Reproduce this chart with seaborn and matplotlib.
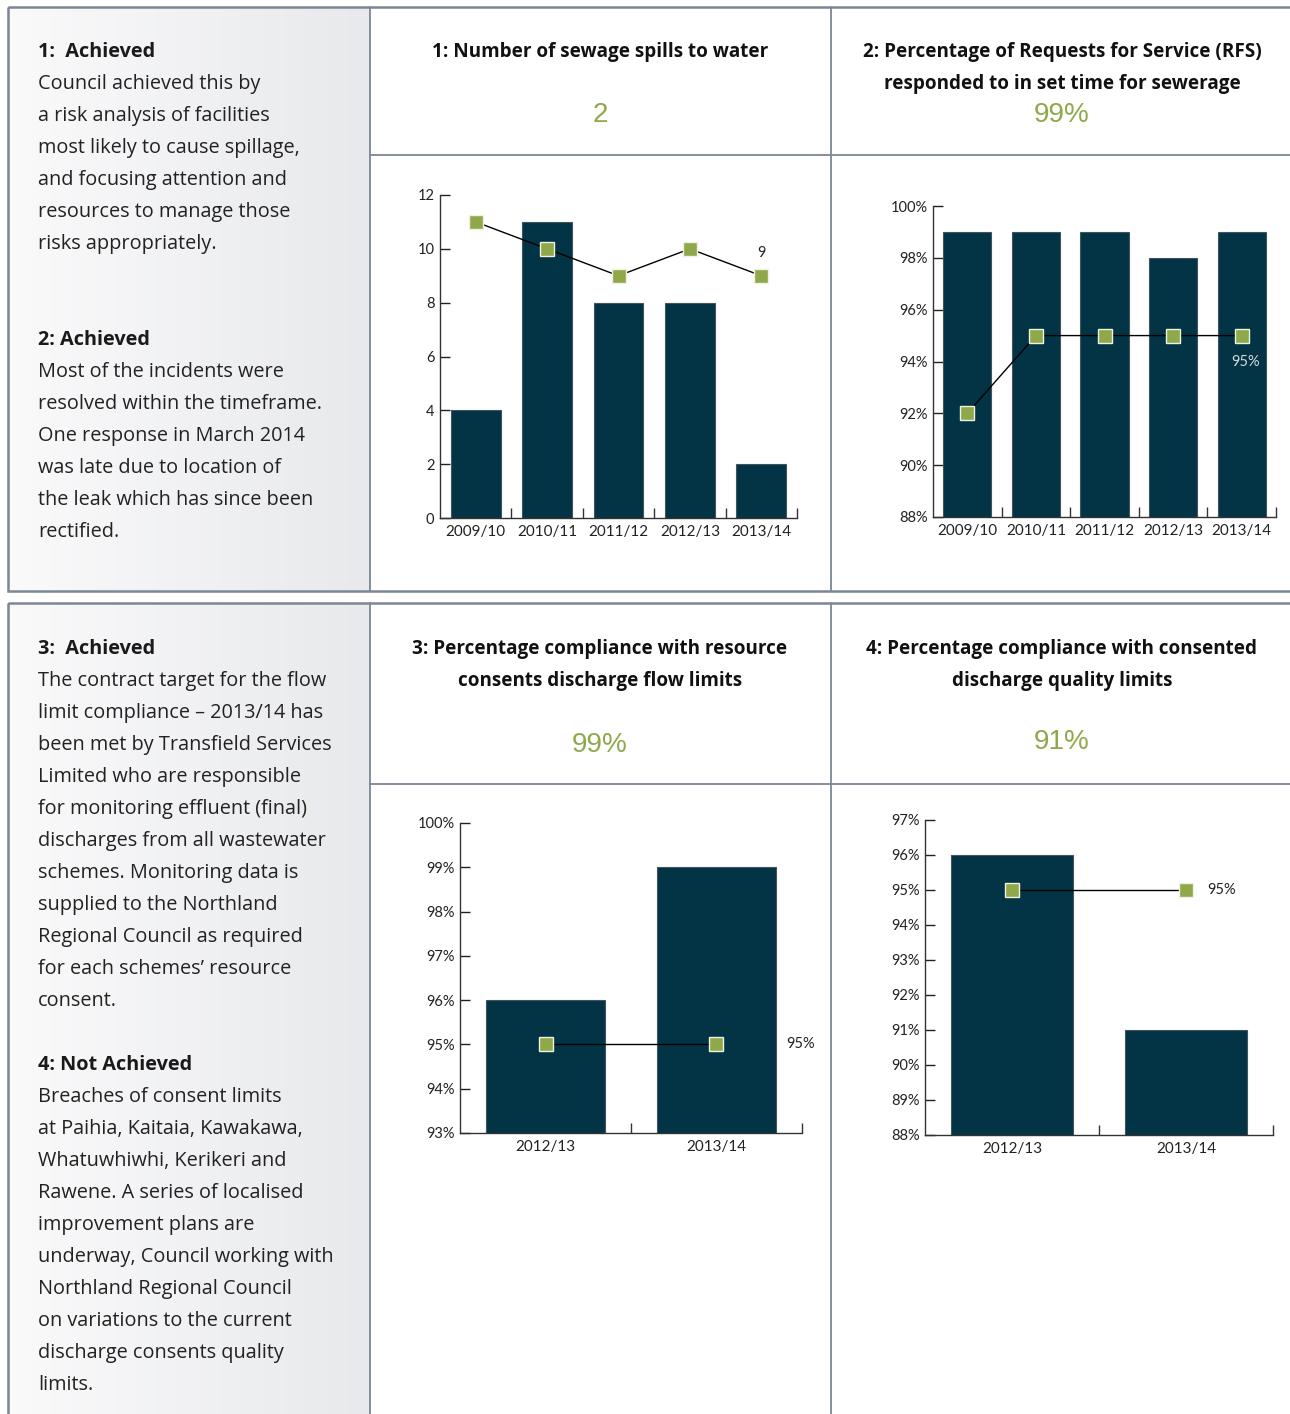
import numpy as np
import pandas as pd
import seaborn as sns
import matplotlib.pyplot as plt
from matplotlib.patches import Rectangle
from matplotlib.ticker import FixedLocator

sns.set_style('ticks')
plt.rcParams['font.family'] = ['Lato', 'DejaVu Sans']

# ---- data ----
years_5 = ['2009/10', '2010/11', '2011/12', '2012/13', '2013/14']
years_2 = ['2012/13', '2013/14']

spills_actual = [4, 11, 8, 8, 2]
spills_target = [11, 10, 9, 10, 9]
spills_yticks = [0, 2, 4, 6, 8, 10, 12]

rfs_actual = [99, 99, 99, 98, 99]
rfs_target = [92, 95, 95, 95, 95]
rfs_yticks = [88, 90, 92, 94, 96, 98, 100]

flow_actual = [96, 99]
flow_target = [95, 95]
flow_yticks = [93, 94, 95, 96, 97, 98, 99, 100]

quality_actual = [96, 91]
quality_target = [95, 95]
quality_yticks = [88, 89, 90, 91, 92, 93, 94, 95, 96, 97]

titles = [
    ['1: Number of sewage spills to water'],
    ['2: Percentage of Requests for Service (RFS)', 'responded to in set time for sewerage'],
    ['3: Percentage compliance with resource', 'consents discharge flow limits'],
    ['4: Percentage compliance with consented', 'discharge quality limits'],
]
headline = ['2', '99%', '99%', '91%']

notes_top = [
    ('1:  Achieved', ['Council achieved this by', 'a risk analysis of facilities',
                      'most likely to cause spillage,', 'and focusing attention and',
                      'resources to manage those', 'risks appropriately.']),
    ('2: Achieved', ['Most of the incidents were', 'resolved within the timeframe.',
                     'One response in March 2014', 'was late due to location of',
                     'the leak which has since been', 'rectified.']),
]
notes_bottom = [
    ('3:  Achieved', ['The contract target for the flow', 'limit compliance \u2013 2013/14 has',
                      'been met by Transfield Services', 'Limited who are responsible',
                      'for monitoring effluent (final)', 'discharges from all wastewater',
                      'schemes. Monitoring data is', 'supplied to the Northland',
                      'Regional Council as required', 'for each schemes\u2019 resource',
                      'consent.']),
    ('4: Not Achieved', ['Breaches of consent limits', 'at Paihia, Kaitaia, Kawakawa,',
                         'Whatuwhiwhi, Kerikeri and', 'Rawene. A series of localised',
                         'improvement plans are', 'underway, Council working with',
                         'Northland Regional Council', 'on variations to the current',
                         'discharge consents quality', 'limits.']),
]

BAR = '#023445'
GREEN = '#8fa84a'
BORDER = '#7b8794'
W, H = 1290, 1414
TEXT_FONT = ['Open Sans', 'DejaVu Sans']

fig = plt.figure(figsize=(W / 100, H / 100), dpi=100)

# background layer in pixel coords
bg = fig.add_axes([0, 0, 1, 1], zorder=-5)
grad = np.linspace(0, 1, 256).reshape(1, -1)
cmap = sns.blend_palette(['#fafafb', '#e8e9ec'], as_cmap=True)
bg.imshow(grad, cmap=cmap, extent=[8, 370, 591, 7], aspect='auto')
bg.imshow(grad, cmap=cmap, extent=[8, 370, 1414, 603], aspect='auto')
bg.set_xlim(0, W)
bg.set_ylim(H, 0)
bg.axis('off')
bg.add_patch(Rectangle((8, 7), 1290, 584, fill=False, ec=BORDER, lw=1.8))
bg.add_patch(Rectangle((8, 603), 1290, 830, fill=False, ec=BORDER, lw=1.8))
for x in (370, 831):
    bg.plot([x, x], [7, 591], color=BORDER, lw=1.3)
    bg.plot([x, x], [603, 1414], color=BORDER, lw=1.3)
bg.plot([370, 1290], [155, 155], color=BORDER, lw=1.3)
bg.plot([370, 1290], [784, 784], color=BORDER, lw=1.3)


def note_block(items, y0, gaps):
    y = y0
    for (head, lines), gap in zip(items, gaps):
        bg.text(38, y, head, fontsize=14.3, fontweight='bold', va='center',
                color='#1a1a1a', family=TEXT_FONT)
        y += 32
        for ln in lines:
            bg.text(38, y, ln, fontsize=14.3, va='center', color='#222222', family=TEXT_FONT)
            y += 32
        y += gap


note_block(notes_top, 52, [64, 0])
note_block(notes_bottom, 649, [32, 0])

title_pos = [(600, 52), (1062, 52), (600, 649), (1062, 649)]
num_pos = [(600, 115), (1062, 115), (600, 745), (1062, 742)]
for lines, (cx, cy), num, (nx, ny) in zip(titles, title_pos, headline, num_pos):
    for i, ln in enumerate(lines):
        bg.text(cx, cy + 32 * i, ln, fontsize=13.6, fontweight='bold', ha='center',
                va='center', color='#111111', family=TEXT_FONT)
    bg.text(nx, ny, num, fontsize=20, ha='center', va='center', color=GREEN,
            family='Liberation Sans')


def chart(box, cats, actual, target, yticks, fmt, label, label_xy, label_kw):
    l, r, t, b = box
    ax = fig.add_axes([l / W, 1 - b / H, (r - l) / W, (b - t) / H])
    ax.set_facecolor('none')
    df = pd.DataFrame({'year': cats, 'value': actual})
    sns.barplot(data=df, x='year', y='value', color=BAR, width=0.7, saturation=1,
                edgecolor='#44545b', linewidth=0.8, ax=ax)
    pos = np.arange(len(cats))
    sns.lineplot(x=pos, y=target, color='black', lw=1, marker='s', markersize=10,
                 markerfacecolor=GREEN, markeredgecolor='#eef2e2', markeredgewidth=1,
                 ax=ax, zorder=5)
    ax.set_xlim(-0.5, len(cats) - 0.5)
    ax.set_ylim(yticks[0], yticks[-1])
    ax.set_yticks(yticks)
    ax.set_yticklabels([fmt(v) for v in yticks])
    ax.set_xticks(pos)
    ax.set_xticklabels(cats)
    ax.xaxis.set_minor_locator(FixedLocator(pos + 0.5))
    ax.tick_params(axis='x', which='major', length=0, pad=5, labelsize=11, colors='#222222')
    ax.tick_params(axis='x', which='minor', direction='in', length=7, width=1, color='#333333')
    ax.tick_params(axis='y', direction='in', length=7, width=1, pad=4, labelsize=10.5,
                   colors='#222222')
    ax.set_xlabel('')
    ax.set_ylabel('')
    for s in ('top', 'right'):
        ax.spines[s].set_visible(False)
    for s in ('left', 'bottom'):
        ax.spines[s].set_color('#333333')
        ax.spines[s].set_linewidth(1)
    ax.text(label_xy[0], label_xy[1], label, fontsize=10.5, clip_on=False, zorder=6,
            **label_kw)
    return ax


count = lambda v: f'{v}'
pct = lambda v: f'{v}%'

chart((440, 797, 195, 518), years_5, spills_actual, spills_target, spills_yticks, count,
      '9', (4, 9.85), dict(ha='center', va='center', color='#222222'))
chart((933, 1276, 206, 517), years_5, rfs_actual, rfs_target, rfs_yticks, pct,
      '95%', (4.05, 94.0), dict(ha='center', va='center', color='#d5dadc'))
chart((460, 802, 823, 1133), years_2, flow_actual, flow_target, flow_yticks, pct,
      '95%', (1.405, 95), dict(ha='left', va='center', color='#222222'))
chart((925, 1273, 820, 1135), years_2, quality_actual, quality_target, quality_yticks, pct,
      '95%', (1.125, 95), dict(ha='left', va='center', color='#222222'))

fig.savefig('out.png', dpi=100)
